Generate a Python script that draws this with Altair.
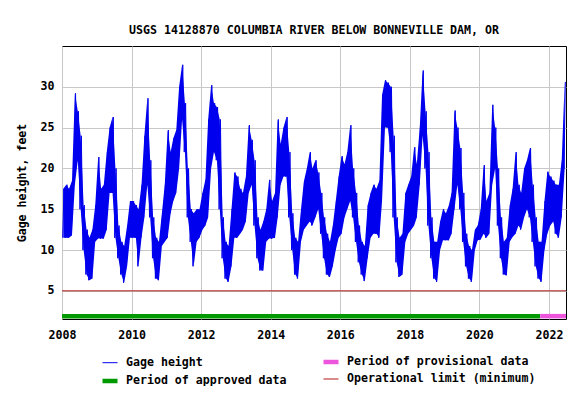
import altair as alt
import pandas as pd

# Monthly envelope of the gage-height record (feet): low and high per month
lo2008 = [11.5, 11.5, 11.5, 11.8, 18, 21, 15, 10, 7, 6.3, 6.5, 11]
hi2008 = [17.5, 18, 17.5, 18.5, 29.2, 27, 24, 15.5, 12.5, 11.5, 12.5, 15.5]
lo2009 = [11.4, 11.4, 11.4, 12.5, 17, 17, 11.5, 9, 7, 6, 8, 11.5]
hi2009 = [21.4, 17.5, 18, 22, 25, 26.3, 20, 13, 11, 10.5, 13, 16]
lo2010 = [11.5, 11.5, 8, 11.5, 14, 18, 14, 9, 6.5, 6.3, 10.5, 11]
hi2010 = [16, 15.5, 15, 18, 24, 28.6, 21, 14, 11.5, 11, 14.5, 18]
lo2011 = [11.5, 14.5, 16, 17, 20, 26, 22, 14, 11, 8, 11, 11.5]
hi2011 = [24.7, 22, 23.7, 24.7, 30, 32.7, 28, 20, 15, 14.5, 15, 15]
lo2012 = [12.5, 13, 14, 20, 22, 21, 15, 9, 6.5, 6.1, 8, 11.5]
hi2012 = [17, 18.6, 26, 30.2, 28, 27.5, 26, 14, 11, 10.5, 15, 19.5]
lo2013 = [11.5, 12, 12.5, 13.5, 17, 18, 13, 9, 7.5, 7.5, 11, 11.4]
hi2013 = [19, 17.5, 17, 19, 25.3, 23.5, 21, 14, 12.5, 13.5, 15, 18.6]
lo2014 = [11.4, 11.5, 14, 18, 19, 19, 14, 10, 7, 6.5, 11, 12.5]
hi2014 = [16, 17, 26, 23, 25, 26.3, 22, 14.5, 11.5, 11, 15, 18.4]
lo2015 = [13, 13.5, 13, 14, 15, 12, 9, 7, 6.7, 8, 10, 11.5]
hi2015 = [20, 22, 20, 21, 19.5, 17, 14, 12, 11, 13, 16, 19]
lo2016 = [12, 14, 15, 16, 14, 11, 8.5, 7, 6.2, 9, 11.5, 12]
hi2016 = [21.5, 20.5, 22, 25.3, 20, 17, 13, 11, 10.5, 15.5, 17, 18]
lo2017 = [12, 11.5, 16, 25, 25, 22, 14, 8.5, 6.7, 7, 11, 12]
hi2017 = [17.5, 18.5, 29, 30.8, 30.5, 30, 24, 14, 11.5, 12, 17, 18]
lo2018 = [12.5, 13, 14, 18, 24, 20, 13, 9, 6.5, 6.1, 10, 11.2]
hi2018 = [19, 22.6, 20.5, 25, 32, 27, 22, 14, 11, 11, 13.5, 15]
lo2019 = [11.2, 11.2, 12, 15, 18, 15, 11, 8, 6.5, 6.1, 10, 11.2]
hi2019 = [14.5, 15.5, 17, 27.1, 25, 22.5, 17, 12, 10.5, 10, 12.5, 13]
lo2020 = [11.3, 12, 11.5, 12, 18, 20, 13, 9, 7, 6.9, 11, 11.6]
hi2020 = [15, 20.4, 16, 17, 27.8, 25, 20, 14, 11, 11.5, 15.5, 17.5]
lo2021 = [12, 13, 12.5, 14, 15, 14, 11, 8, 6.5, 6.1, 10, 12]
hi2021 = [22, 18, 17, 20, 21, 22.5, 18, 14, 11, 11, 16, 19.6]
lo2022 = [13, 13.5, 12, 11.5, 14, 20]
hi2022 = [19, 18.5, 18, 18, 21, 30.6]

years = list(range(2008, 2023))
lows = [lo2008, lo2009, lo2010, lo2011, lo2012, lo2013, lo2014, lo2015,
        lo2016, lo2017, lo2018, lo2019, lo2020, lo2021, lo2022]
highs = [hi2008, hi2009, hi2010, hi2011, hi2012, hi2013, hi2014, hi2015,
         hi2016, hi2017, hi2018, hi2019, hi2020, hi2021, hi2022]

# Approval periods and operational limit
period_names = ["Period of approved data", "Period of provisional data"]
period_start = ["2008-01-01", "2021-10-01"]
period_end = ["2021-10-01", "2022-06-29"]
operational_limit = 5

series_domain = ["Gage height", "Period of approved data",
                 "Period of provisional data", "Operational limit (minimum)"]
series_colors = ["#0000ee", "#009a00", "#ee55dd", "#b01818"]
series_widths = [1.0, 4.5, 4.5, 1.0]
BLUE = "#0000ee"

rows = []
band_rows = []
for y, lo, hi in zip(years, lows, highs):
    for i, (a, b) in enumerate(zip(lo, hi)):
        m = i + 1
        rows.append({"date": f"{y}-{m:02d}-08", "value": a, "series": "Gage height"})
        rows.append({"date": f"{y}-{m:02d}-22", "value": b, "series": "Gage height"})
        band_rows.append({"date": f"{y}-{m:02d}-15", "lo": a, "hi": b})
gage = pd.DataFrame(rows)
band = pd.DataFrame(band_rows)

periods = pd.DataFrame({"series": period_names, "start": period_start,
                        "end": period_end, "level": [1.9, 1.9]})
limit = pd.DataFrame({"series": ["Operational limit (minimum)"], "level": [operational_limit]})

FONT = "DejaVu Sans Mono"
FS = 11.6

legend = alt.Legend(title=None, orient="none", legendX=38, legendY=306,
                    columns=2, columnPadding=27, rowPadding=0,
                    symbolType="stroke", symbolSize=225, labelOffset=6,
                    labelFont=FONT, labelFontSize=FS, labelFontWeight="bold",
                    labelColor="black", labelLimit=400)

color = alt.Color("series:N", scale=alt.Scale(domain=series_domain, range=series_colors),
                  legend=legend)
width_ch = alt.StrokeWidth("series:N",
                           scale=alt.Scale(type="ordinal", domain=series_domain, range=series_widths),
                           legend=legend)

xscale = alt.Scale(domain=[alt.DateTime(year=2008, month=1, date=1),
                           alt.DateTime(year=2022, month=6, date=29)])
xaxis = alt.Axis(values=[alt.DateTime(year=y, month=1, date=1) for y in range(2008, 2023, 2)],
                 format="%Y", title=None, grid=True, ticks=False, domain=False,
                 labelPadding=10, labelFlush=False, labelOverlap=False)
yscale = alt.Scale(domain=[1.55, 35], nice=False, zero=False)
yaxis = alt.Axis(values=[5, 10, 15, 20, 25, 30], title="Gage height, feet", grid=True,
                 ticks=False, domain=False, labelPadding=8, titlePadding=13)

area = alt.Chart(band).mark_area(clip=True, color=BLUE, opacity=1).encode(
    x=alt.X("date:T", scale=xscale, axis=xaxis),
    y=alt.Y("lo:Q", scale=yscale, axis=yaxis),
    y2="hi:Q")

line = alt.Chart(gage).mark_line(clip=True).encode(
    x=alt.X("date:T", scale=xscale, axis=xaxis),
    y=alt.Y("value:Q", scale=yscale, axis=yaxis),
    color=color, strokeWidth=width_ch)

bars = alt.Chart(periods).mark_rule(clip=True).encode(
    x="start:T", x2="end:T", y="level:Q", color=color, strokeWidth=width_ch)

lim = alt.Chart(limit).mark_rule(clip=True).encode(
    y="level:Q", color=color, strokeWidth=width_ch)

chart = alt.layer(area, line, lim, bars).properties(
    width=504, height=273,
    title=alt.TitleParams("USGS 14128870 COLUMBIA RIVER BELOW BONNEVILLE DAM, OR",
                          font=FONT, fontSize=FS, fontWeight="bold", color="black",
                          offset=9, anchor="middle"),
    autosize=alt.AutoSizeParams(type="none"),
    padding={"left": 54, "top": 38, "right": 11, "bottom": 67},
).configure_view(stroke="black", strokeWidth=1).configure_axis(
    labelFont=FONT, labelFontSize=FS, labelFontWeight="bold", labelColor="black",
    titleFont=FONT, titleFontSize=FS, titleFontWeight="bold", titleColor="black",
    gridColor="#c8c8c8", gridWidth=1)

chart.save("out.html", embed_options={"renderer": "svg", "actions": False})
